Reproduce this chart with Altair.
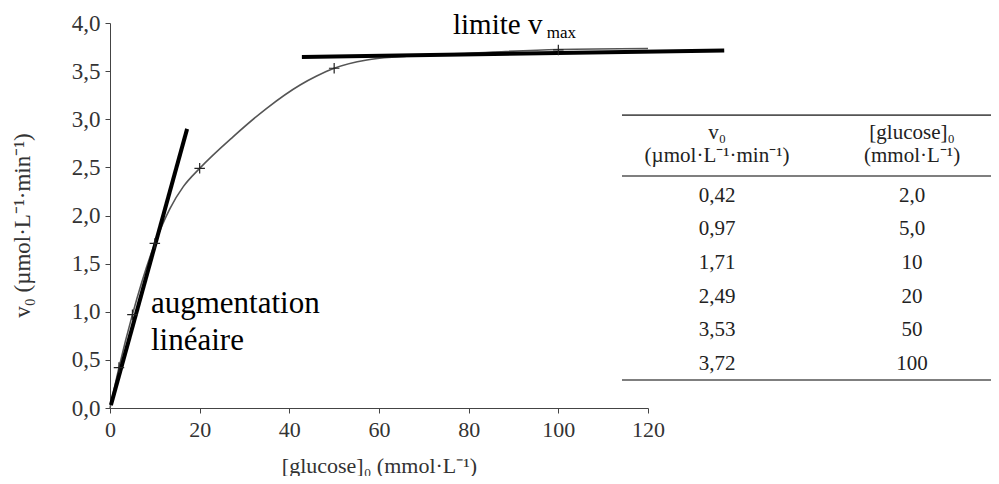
import altair as alt
import pandas as pd

# ---- data ----
glucose = [2.0, 5.0, 10, 20, 50, 100]
v0 = [0.42, 0.97, 1.71, 2.49, 3.53, 3.72]
glucose_labels = ["2,0", "5,0", "10", "20", "50", "100"]
v0_labels = ["0,42", "0,97", "1,71", "2,49", "3,53", "3,72"]

# points read along the drawn (smoothed) curve
curve_x = [0, 2, 5, 10, 13.4, 16.35, 20, 27.5, 34.95, 42.4, 46.1, 50,
           57.3, 64.7, 80, 100, 120]
curve_y = [0, 0.42, 0.97, 1.71, 2.075, 2.30, 2.49, 2.82, 3.114, 3.356, 3.449, 3.53,
           3.616, 3.65, 3.685, 3.725, 3.735]

tangent_lin_x = [0.2, 17.2]
tangent_lin_y = [0.03, 2.90]
tangent_max_x = [42.8, 137.0]
tangent_max_y = [3.646, 3.715]

x_ticks = [0, 20, 40, 60, 80, 100, 120]
y_ticks = [0, 0.5, 1.0, 1.5, 2.0, 2.5, 3.0, 3.5, 4.0]

header_v0 = ["v₀", "(µmol·L⁻¹·min⁻¹)"]
header_glc = ["[glucose]₀", "(mmol·L⁻¹)"]

# ---- layout (data-space positions of annotations / table) ----
W, H = 538, 385
SERIF = "Liberation Serif"
col1_x, col2_x = 135.4, 178.9
header_y = [2.80, 2.56]
row_y0, row_dy = 2.145, 0.350
rule_x0, rule_x1 = 114.2, 197.4
rule_ys = [3.043, 2.410, 0.291]

xs = alt.Scale(domain=[0, 120], nice=False, zero=False)
ys = alt.Scale(domain=[0, 4], nice=False, zero=False)
X = alt.X("x:Q", scale=xs, axis=alt.Axis(
    values=x_ticks, title="[glucose]₀ (mmol·L⁻¹)", grid=False,
    labelFont=SERIF, labelFontSize=22, labelColor="#333", labelPadding=6,
    titleFont=SERIF, titleFontSize=22, titleFontWeight="normal", titleColor="#333",
    titleY=57, titleBaseline="middle",
    domainColor="#444", tickColor="#444", tickSize=5, labelFlush=False))
Y = alt.Y("y:Q", scale=ys, axis=alt.Axis(
    values=y_ticks, title="v₀ (µmol·L⁻¹·min⁻¹)", grid=False,
    labelExpr="replace(format(datum.value, '.1f'), '.', ',')",
    labelFont=SERIF, labelFontSize=23, labelColor="#333", labelPadding=5,
    titleFont=SERIF, titleFontSize=23, titleFontWeight="normal", titleColor="#333",
    titleX=-88, titleY=202, titleBaseline="middle", titleAngle=270,
    domainColor="#444", tickColor="#444", tickSize=5, labelFlush=False))

curve_df = pd.DataFrame({"x": curve_x, "y": curve_y})
pts_df = pd.DataFrame({"x": glucose, "y": v0})
tan_df = pd.DataFrame({
    "x": tangent_lin_x + tangent_max_x,
    "y": tangent_lin_y + tangent_max_y,
    "seg": ["lin", "lin", "max", "max"],
})

curve = alt.Chart(curve_df).mark_line(
    interpolate="monotone", color="#555", strokeWidth=1.6
).encode(x=X, y=Y)

points = alt.Chart(pts_df).mark_point(
    shape="M-1,0L1,0M0,-1L0,1", filled=False, color="#222",
    strokeWidth=1.2, size=110, opacity=1
).encode(x=X, y=Y)

tangents = alt.Chart(tan_df).mark_line(
    color="black", strokeWidth=4, strokeCap="butt"
).encode(x=X, y=Y, detail="seg:N")

ann_df = pd.DataFrame({
    "x": [9.14, 9.14],
    "y": [0.987, 0.603],
    "t": ["augmentation", "linéaire"],
})
ann = alt.Chart(ann_df).mark_text(
    font=SERIF, fontSize=31, align="left", baseline="alphabetic", color="black"
).encode(x=X, y=Y, text="t:N")

top_df = pd.DataFrame({"x": [76.5], "y": [3.886], "t": ["limite v"]})
top_ann = alt.Chart(top_df).mark_text(
    font=SERIF, fontSize=29, align="left", baseline="alphabetic", color="black"
).encode(x=X, y=Y, text="t:N")

sub_df = pd.DataFrame({"x": [97.4], "y": [3.844], "t": ["max"]})
sub = alt.Chart(sub_df).mark_text(
    font=SERIF, fontSize=17, align="left", baseline="alphabetic", color="black"
).encode(x=X, y=Y, text="t:N")

# table
rows = []
for i, (a, b) in enumerate(zip(v0_labels, glucose_labels)):
    yy = row_y0 - i * row_dy
    rows.append({"x": col1_x, "y": yy, "t": a})
    rows.append({"x": col2_x, "y": yy, "t": b})
for j in range(2):
    rows.append({"x": col1_x, "y": header_y[j], "t": header_v0[j]})
    rows.append({"x": col2_x, "y": header_y[j], "t": header_glc[j]})
tab_df = pd.DataFrame(rows)
table_text = alt.Chart(tab_df).mark_text(
    font=SERIF, fontSize=21, align="center", baseline="alphabetic", color="#222"
).encode(x=X, y=Y, text="t:N")

rule_df = pd.DataFrame({
    "x": [rule_x0] * len(rule_ys), "x2": [rule_x1] * len(rule_ys), "y": rule_ys,
})
table_rules = alt.Chart(rule_df).mark_rule(color="#555", strokeWidth=1.6).encode(
    x=X, x2="x2:Q", y=Y
)

chart = alt.layer(
    curve, tangents, points, ann, top_ann, sub, table_rules, table_text
).properties(
    width=W, height=H,
    autosize=alt.AutoSizeParams(type="none"),
    padding={"left": 102, "top": 15, "right": 343, "bottom": 68},
    background="white",
).configure_view(stroke=None)

chart.save("out.html", embed_options={"renderer": "svg", "actions": False})
